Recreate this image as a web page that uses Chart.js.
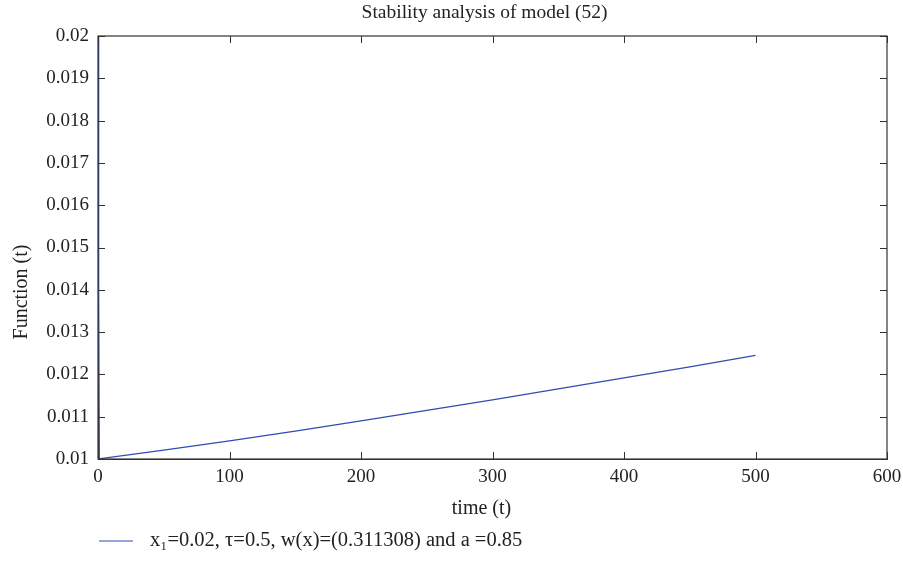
<!DOCTYPE html>
<html>
<head>
<meta charset="utf-8">
<script src="https://cdn.jsdelivr.net/npm/chart.js@4"></script>
<style>
html,body{margin:0;padding:0;background:#fff;}
#wrap{width:903px;height:565px;position:relative;}
</style>
</head>
<body>
<div id="wrap"><canvas id="c" width="903" height="565"></canvas></div>
<script>
const chartTitle = "Stability analysis of model (52)";
const xTitle = "time (t)";
const yTitle = "Function (t)";
const legendLabel = "x\u2081=0.02, \u03c4=0.5, w(x)=(0.311308) and a =0.85";

const timeValues = [0, 0.5, 1, 2, 50, 100, 150, 200, 250, 300, 350, 400, 450, 500];
const functionValues = [0.02, 0.014, 0.0100, 0.01001, 0.01021, 0.01043, 0.01066, 0.01090, 0.01115, 0.01140, 0.01166, 0.01192, 0.01218, 0.01245];

const xTicks = [0, 100, 200, 300, 400, 500, 600];
const yTicks = [0.01, 0.011, 0.012, 0.013, 0.014, 0.015, 0.016, 0.017, 0.018, 0.019, 0.02];
const yTickLabels = ["0.01", "0.011", "0.012", "0.013", "0.014", "0.015", "0.016", "0.017", "0.018", "0.019", "0.02"];

const FONT = "'Liberation Serif', 'DejaVu Serif', serif";
const LINE_COLOR = '#2e4cb3';
const AXIS_COLOR = '#333333';
const TEXT_COLOR = '#222222';

const boxPlugin = {
  id: 'boxPlugin',
  afterDraw(chart) {
    const ctx = chart.ctx;
    const a = chart.chartArea;
    const xs = chart.scales.x, ys = chart.scales.y;
    ctx.save();
    ctx.strokeStyle = AXIS_COLOR;
    ctx.lineWidth = 1.2;
    ctx.strokeRect(a.left, a.top, a.right - a.left, a.bottom - a.top);
    ctx.lineWidth = 1;
    const L = 7;
    ctx.beginPath();
    xs.ticks.forEach(t => {
      const px = Math.round(xs.getPixelForValue(t.value)) + 0.5;
      ctx.moveTo(px, a.bottom); ctx.lineTo(px, a.bottom - L);
      ctx.moveTo(px, a.top); ctx.lineTo(px, a.top + L);
    });
    ys.ticks.forEach(t => {
      const py = Math.round(ys.getPixelForValue(t.value)) + 0.5;
      ctx.moveTo(a.left, py); ctx.lineTo(a.left + L, py);
      ctx.moveTo(a.right, py); ctx.lineTo(a.right - L, py);
    });
    ctx.stroke();
    ctx.fillStyle = TEXT_COLOR;
    ctx.textAlign = 'center';
    ctx.textBaseline = 'middle';
    ctx.font = "19.5px " + FONT;
    ctx.fillText(chartTitle, (a.left + a.right) / 2 - 8, 13);
    ctx.font = "20px " + FONT;
    ctx.fillText(xTitle, (a.left + a.right) / 2 - 11, 509);
    ctx.save();
    ctx.translate(22, 292);
    ctx.rotate(-Math.PI / 2);
    ctx.fillText(yTitle, 0, 0);
    ctx.restore();
    const ly = 541;
    ctx.strokeStyle = LINE_COLOR;
    ctx.lineWidth = 1.2;
    ctx.beginPath();
    ctx.moveTo(99, ly); ctx.lineTo(133, ly);
    ctx.stroke();
    ctx.textAlign = 'left';
    ctx.font = "20.5px " + FONT;
    ctx.fillText(legendLabel, 150, ly);
    ctx.restore();
  }
};

new Chart(document.getElementById('c'), {
  type: 'line',
  data: {
    datasets: [{
      label: legendLabel,
      data: timeValues.map((t, i) => ({x: t, y: functionValues[i]})),
      borderColor: LINE_COLOR,
      borderWidth: 1.3,
      pointRadius: 0,
      tension: 0,
      fill: false
    }]
  },
  options: {
    responsive: false,
    animation: false,
    devicePixelRatio: 1,
    layout: {padding: {top: 36, right: 0, left: 0, bottom: 0}},
    plugins: {legend: {display: false}, title: {display: false}, tooltip: {enabled: false}},
    scales: {
      x: {
        type: 'linear', min: 0, max: 600,
        afterBuildTicks: s => { s.ticks = xTicks.map(v => ({value: v})); },
        afterFit: s => { s.height = 106; s.paddingRight = 16; },
        grid: {drawOnChartArea: false, drawTicks: false},
        border: {color: AXIS_COLOR},
        ticks: {color: TEXT_COLOR, font: {family: FONT, size: 19}, padding: 7, maxRotation: 0}
      },
      y: {
        type: 'linear', min: 0.01, max: 0.02,
        afterBuildTicks: s => { s.ticks = yTicks.map(v => ({value: v})); },
        afterFit: s => { s.width = 98; },
        grid: {drawOnChartArea: false, drawTicks: false},
        border: {color: AXIS_COLOR},
        ticks: {color: TEXT_COLOR, font: {family: FONT, size: 19}, padding: 9,
          callback: (v, i) => yTickLabels[i]}
      }
    }
  },
  plugins: [boxPlugin]
});
</script>
</body>
</html>
